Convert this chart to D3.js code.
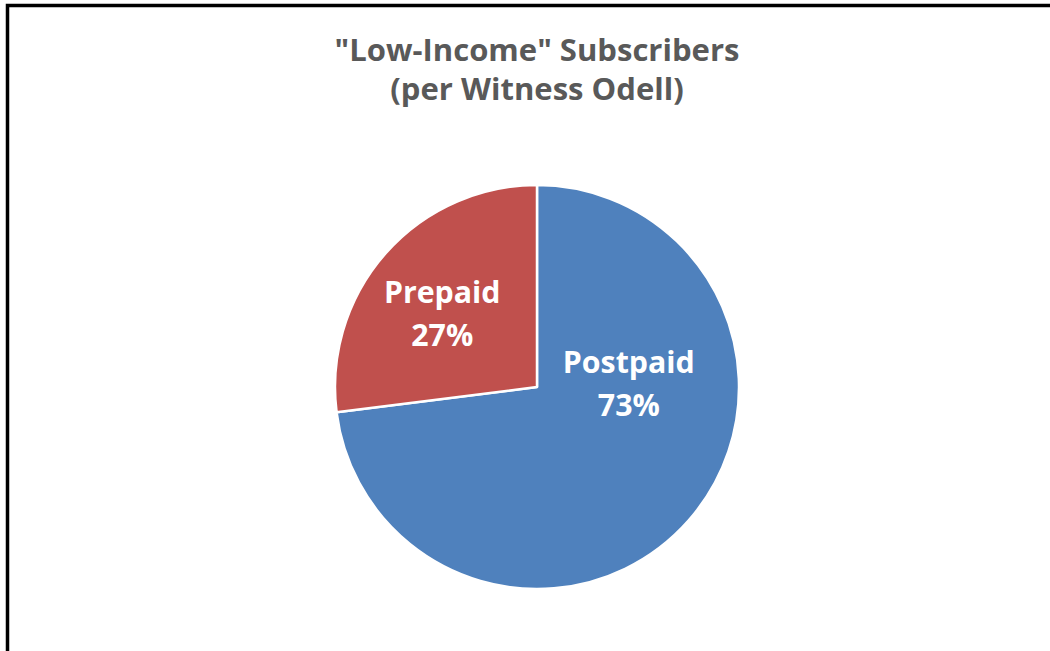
<!DOCTYPE html>
<html>
<head>
<meta charset="utf-8">
<script src="https://cdn.jsdelivr.net/npm/d3@7"></script>
<style>
  html, body { margin: 0; padding: 0; background: #fff; }
  svg { display: block; }
</style>
</head>
<body>
<svg id="chart" width="1050" height="651"></svg>
<script>
// Subscriber split, in percent
const categories = ["Postpaid", "Prepaid"];
const shares = [73, 27];
const colors = ["#4F81BD", "#C0504D"];
const titleLines = ["\"Low-Income\" Subscribers", "(per Witness Odell)"];

const W = 1050, H = 651;
const svg = d3.select("#chart");
const fontFamily = "'Open Sans', Lato, sans-serif";

// Scale a text element's font so its first line spans the wanted width
function fitFont(sel, textWidth, startSize) {
  const node = sel.node();
  const w = node.getComputedTextLength ? node.getComputedTextLength() : 0;
  if (w > 0) sel.attr("font-size", startSize * textWidth / w);
  return +sel.attr("font-size");
}

// Chart frame: heavy black rule on the top and left edges
svg.append("rect")
  .attr("x", 7.5).attr("y", 5.5)
  .attr("width", W + 10).attr("height", H + 10)
  .attr("fill", "#fff")
  .attr("stroke", "#000")
  .attr("stroke-width", 3.5);

// Title
const probe = svg.append("text")
  .attr("font-family", fontFamily).attr("font-weight", "bold")
  .attr("font-size", 30).text(titleLines[0]);
const titleSize = fitFont(probe, 405, 30);
probe.remove();

svg.append("text")
  .attr("x", 537).attr("y", 61)
  .attr("text-anchor", "middle")
  .attr("font-family", fontFamily)
  .attr("font-weight", "bold")
  .attr("font-size", titleSize)
  .attr("fill", "#595959")
  .selectAll("tspan")
  .data(titleLines)
  .join("tspan")
  .attr("x", 537)
  .attr("dy", (d, i) => i === 0 ? 0 : 39)
  .text(d => d);

// Pie
const cx = 537, cy = 387, r = 202;
const data = categories.map((c, i) => ({ name: c, value: shares[i], color: colors[i] }));

const pie = d3.pie()
  .value(d => d.value)
  .sort(null)
  .startAngle(0)
  .endAngle(2 * Math.PI);

const arc = d3.arc().innerRadius(0).outerRadius(r);

const g = svg.append("g").attr("transform", `translate(${cx},${cy})`);

const arcs = pie(data);

g.selectAll("path")
  .data(arcs)
  .join("path")
  .attr("d", arc)
  .attr("fill", d => d.data.color)
  .attr("stroke", "#fff")
  .attr("stroke-width", 2.5)
  .attr("stroke-linejoin", "round");

// Category and percentage labels inside each slice
const labelProbe = svg.append("text")
  .attr("font-family", fontFamily).attr("font-weight", "bold")
  .attr("font-size", 28).text("Postpaid");
const labelSize = fitFont(labelProbe, 132, 28);
labelProbe.remove();

const labelArc = d3.arc().innerRadius(r * 0.52).outerRadius(r * 0.52);
// Nudges from the slice centroid to the label anchor
const labelOffsets = { Postpaid: [13, -79], Prepaid: [-16, -11] };

const labels = g.selectAll("text.slice-label")
  .data(arcs)
  .join("text")
  .attr("class", "slice-label")
  .attr("text-anchor", "middle")
  .attr("font-family", fontFamily)
  .attr("font-weight", "bold")
  .attr("font-size", labelSize)
  .attr("fill", "#fff")
  .attr("transform", d => {
    const [x, y] = labelArc.centroid(d);
    const off = labelOffsets[d.data.name] || [0, 0];
    return `translate(${x + off[0]},${y + off[1]})`;
  });

labels.append("tspan")
  .attr("x", 0).attr("dy", -4)
  .text(d => d.data.name);
labels.append("tspan")
  .attr("x", 0).attr("dy", 43)
  .text(d => d.data.value + "%");
</script>
</body>
</html>
